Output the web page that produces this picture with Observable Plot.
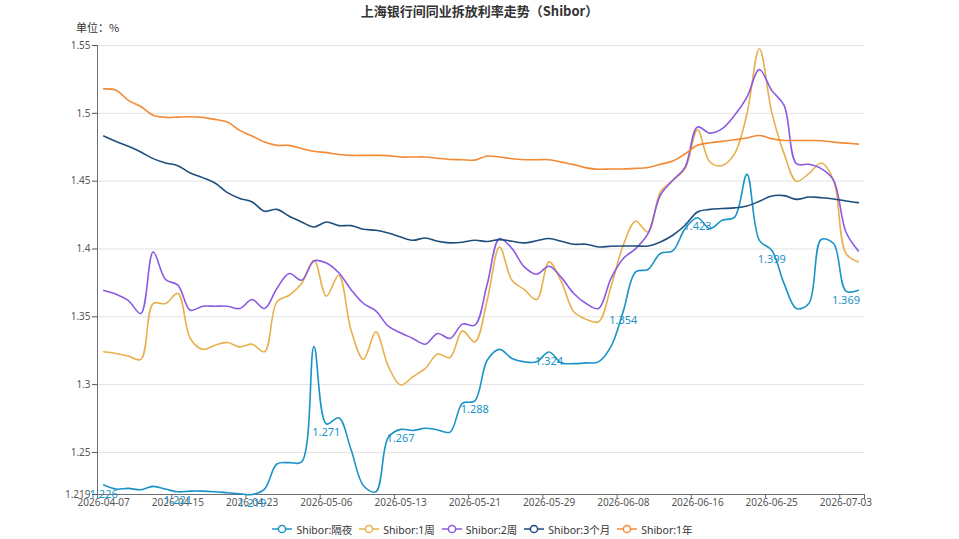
<!DOCTYPE html>
<html><head><meta charset="utf-8">
<script src="https://cdn.jsdelivr.net/npm/d3@7"></script>
<script src="https://cdn.jsdelivr.net/npm/@observablehq/plot@0.6"></script>
<style>
body{margin:0;background:#fff;font-family:"Noto Sans","Noto Sans CJK SC",sans-serif;}
#wrap{position:relative;width:959px;height:539px;overflow:hidden;}
#title{height:22px;line-height:22px;text-align:center;font-size:13px;font-weight:bold;color:#333;font-family:"Noto Sans CJK SC","Noto Sans",sans-serif;}
#unit{position:absolute;left:76px;top:20px;font-size:11px;line-height:15px;color:#333;font-family:"Noto Sans CJK SC","Noto Sans",sans-serif;}
#chart svg{display:block;}
#legend{height:20px;display:flex;justify-content:center;align-items:center;gap:7px;font-size:10.5px;color:#333;padding-left:6px;}
.item{display:flex;align-items:center;gap:4px;}
.item svg{display:block;}
</style></head><body>
<div id="wrap">
<div id="title">上海银行间同业拆放利率走势（Shibor）</div>
<div id="unit">单位：%</div>
<div id="chart"></div>
<div id="legend"></div>
</div>
<script>
const dates = ["2026-04-07","2026-04-08","2026-04-09","2026-04-10","2026-04-13","2026-04-14","2026-04-15","2026-04-16","2026-04-17","2026-04-20","2026-04-21","2026-04-22","2026-04-23","2026-04-24","2026-04-27","2026-04-28","2026-04-29","2026-04-30","2026-05-06","2026-05-07","2026-05-08","2026-05-09","2026-05-11","2026-05-12","2026-05-13","2026-05-14","2026-05-15","2026-05-18","2026-05-19","2026-05-20","2026-05-21","2026-05-22","2026-05-25","2026-05-26","2026-05-27","2026-05-28","2026-05-29","2026-06-01","2026-06-02","2026-06-03","2026-06-04","2026-06-05","2026-06-08","2026-06-09","2026-06-10","2026-06-11","2026-06-12","2026-06-15","2026-06-16","2026-06-17","2026-06-18","2026-06-22","2026-06-23","2026-06-24","2026-06-25","2026-06-26","2026-06-29","2026-06-30","2026-07-01","2026-07-02","2026-07-03","2026-07-06"];

const overnight = [1.226,1.223,1.2235,1.2225,1.225,1.223,1.221,1.2215,1.2215,1.221,1.2203,1.2196,1.219,1.223,1.2415,1.2425,1.243,1.328,1.271,1.2755,1.252,1.2255,1.221,1.261,1.267,1.2662,1.2678,1.2666,1.265,1.2862,1.288,1.318,1.326,1.3193,1.3168,1.3168,1.324,1.316,1.3155,1.316,1.3168,1.328,1.354,1.3831,1.3849,1.3967,1.3986,1.415,1.423,1.415,1.4211,1.4235,1.455,1.4064,1.399,1.3745,1.3561,1.3598,1.407,1.404,1.369,1.3696];

const week1 = [1.3242,1.323,1.321,1.3186,1.3598,1.3598,1.3672,1.334,1.326,1.3291,1.3311,1.3278,1.3298,1.3242,1.361,1.3659,1.3745,1.3917,1.3652,1.3806,1.34,1.3186,1.3389,1.3137,1.2997,1.3058,1.312,1.3225,1.32,1.3396,1.3315,1.3622,1.4015,1.377,1.3701,1.3627,1.3905,1.3757,1.3537,1.3481,1.3463,1.372,1.4028,1.4204,1.4125,1.442,1.4506,1.4592,1.4879,1.4641,1.4616,1.4703,1.4997,1.5476,1.5009,1.4703,1.4499,1.4555,1.4634,1.4506,1.3967,1.3905];

const week2 = [1.3694,1.3667,1.362,1.3524,1.3978,1.3775,1.3733,1.3549,1.3578,1.3578,1.3578,1.3561,1.3627,1.3561,1.3709,1.3819,1.377,1.3912,1.3897,1.3825,1.370,1.3598,1.3544,1.3431,1.3382,1.334,1.3298,1.3377,1.334,1.3446,1.3438,1.374,1.4077,1.4003,1.3868,1.3814,1.3873,1.3789,1.3672,1.3598,1.3561,1.3782,1.393,1.4003,1.4113,1.4396,1.4506,1.4604,1.4899,1.4854,1.4887,1.4985,1.5119,1.5323,1.5169,1.5058,1.4629,1.4624,1.4592,1.4506,1.4125,1.3986];

const month3 = [1.4833,1.4793,1.4757,1.4715,1.4666,1.4634,1.4614,1.456,1.4526,1.4486,1.4415,1.4373,1.4346,1.4278,1.4292,1.4241,1.4199,1.4162,1.4199,1.4172,1.4172,1.4145,1.4138,1.4118,1.4089,1.4064,1.4081,1.4057,1.4045,1.405,1.4064,1.4055,1.4069,1.4057,1.4045,1.406,1.4077,1.4057,1.4035,1.4035,1.4015,1.402,1.4022,1.4022,1.4022,1.4052,1.4101,1.4175,1.4273,1.4292,1.4298,1.4303,1.4317,1.4351,1.4391,1.4393,1.4366,1.4383,1.4378,1.4369,1.4354,1.4342];

const year1 = [1.518,1.517,1.5095,1.505,1.4985,1.497,1.4972,1.4975,1.497,1.4955,1.4936,1.4874,1.4833,1.4788,1.4764,1.4764,1.474,1.472,1.471,1.4697,1.469,1.469,1.469,1.4688,1.4678,1.4678,1.4678,1.4668,1.466,1.4658,1.4655,1.4685,1.4678,1.4665,1.4658,1.4658,1.4658,1.464,1.4622,1.4598,1.4588,1.459,1.459,1.4594,1.46,1.4624,1.4648,1.4702,1.4764,1.4783,1.4793,1.4805,1.4818,1.4837,1.4813,1.48,1.48,1.48,1.4798,1.4788,1.478,1.4773];

const seriesNames = ["Shibor:隔夜","Shibor:1周","Shibor:2周","Shibor:3个月","Shibor:1年"];
const colors = ["#1a93c6","#e8b04d","#8a5ae2","#1d4e7e","#f28a36"];
const yTicks = [1.219,1.25,1.3,1.35,1.4,1.45,1.5,1.55];
const labelValues = [1.226,1.221,1.219,1.271,1.267,1.288,1.324,1.354,1.423,1.399,1.369];

const seriesData = [overnight, week1, week2, month3, year1];
const n = dates.length;
const rows = [];
seriesData.forEach((arr, k) => arr.forEach((v, i) => rows.push({i, v, s: seriesNames[k]})));
const labelIdx = d3.range(0, n, 6);
const boundaryTicks = [...labelIdx.map(i => i - 0.5), n - 0.5];
const labelRows = labelIdx.map((i, k) => ({i, v: overnight[i], t: labelValues[k].toFixed(3)}));
const xDomain = [-0.5, n - 0.5];

const chart = Plot.plot({
  width: 959, height: 497,
  marginLeft: 97, marginRight: 95, marginTop: 23, marginBottom: 25,
  style: {fontFamily: "'Noto Sans','Noto Sans CJK SC',sans-serif", background: "white", overflow: "visible"},
  x: {type: "linear", domain: xDomain},
  y: {domain: [yTicks[0], yTicks[yTicks.length - 1]]},
  color: {domain: seriesNames, range: colors},
  marks: [
    Plot.gridY(yTicks.slice(1), {stroke: "#e3e3e3", strokeOpacity: 1}),
    Plot.ruleX([xDomain[0]], {stroke: "#6e7079"}),
    Plot.ruleY([yTicks[0]], {stroke: "#6e7079"}),
    Plot.axisY({ticks: yTicks, tickSize: 5, tickPadding: 2, tickFormat: d => String(d), fontSize: 10, color: "#555", label: null}),
    Plot.axisX({ticks: boundaryTicks, tickSize: 5, tickFormat: () => "", color: "#6e7079", label: null}),
    Plot.axisX({ticks: labelIdx, tickSize: 0, tickPadding: 4, tickFormat: i => dates[i], fontSize: 10, color: "#555", label: null}),
    Plot.line(rows, {x: "i", y: "v", z: "s", stroke: "s", strokeWidth: 1.6, curve: "catmull-rom"}),
    Plot.text(labelRows, {x: "i", y: "v", text: "t", dy: 9, fill: colors[0], fontSize: 11})
  ]
});
document.getElementById("chart").appendChild(chart);

const legend = document.getElementById("legend");
seriesNames.forEach((name, k) => {
  const item = document.createElement("div");
  item.className = "item";
  item.innerHTML = `<svg width="20" height="10"><line x1="0" y1="5" x2="20" y2="5" stroke="${colors[k]}" stroke-width="1.5"/><circle cx="10" cy="5" r="3.6" fill="#fff" stroke="${colors[k]}" stroke-width="1.5"/></svg><span>${name}</span>`;
  legend.appendChild(item);
});
</script>
</body></html>
